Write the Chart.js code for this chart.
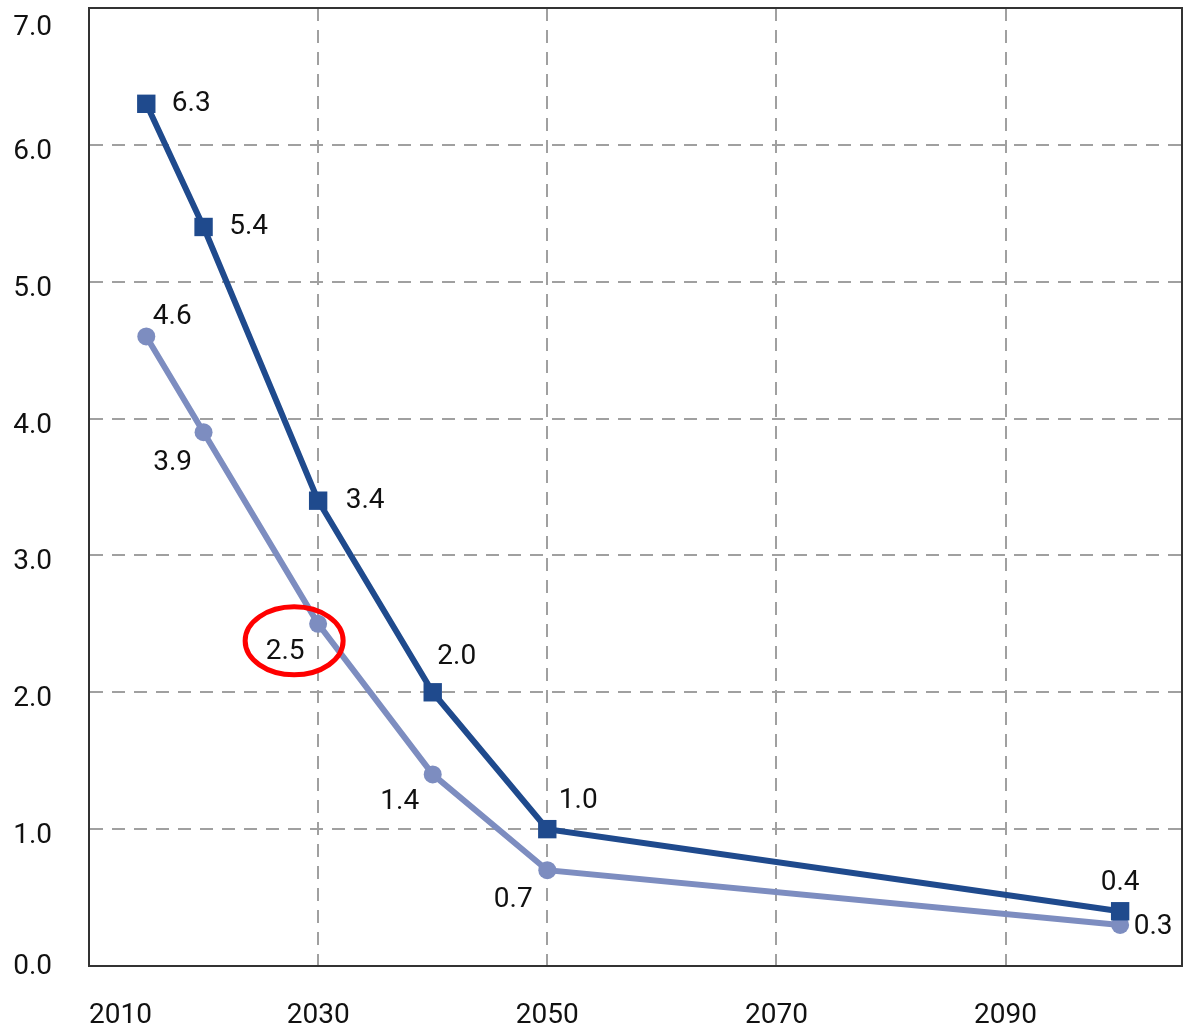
<!DOCTYPE html>
<html>
<head>
<meta charset="utf-8">
<script src="https://cdn.jsdelivr.net/npm/chart.js@4"></script>
<style>
  body { margin: 0; background: #fff; }
  #page { width: 1187px; height: 1032px; position: relative; overflow: hidden; }
  #wrap { width: 1195px; height: 1037px; position: absolute; left: 0; top: -5px; }
</style>
</head>
<body>
<div id="page"><div id="wrap"><canvas id="myChart"></canvas></div></div>
<script>
// values
var years = [2015, 2020, 2030, 2040, 2050, 2100];
var upperValues = [6.3, 5.4, 3.4, 2.0, 1.0, 0.4];
var lowerValues = [4.6, 3.9, 2.5, 1.4, 0.7, 0.3];
var xTickYears = [2010, 2030, 2050, 2070, 2090];
var yTickValues = [0, 1, 2, 3, 4, 5, 6, 7];

// where each value label sits relative to its point
var upperLabelShift = [[45, 0], [45, 0], [47, 0], [24, -35], [31, -28], [0, -28]];
var lowerLabelShift = [[26, -19], [-31, 31], [-33, 28], [-33, 28], [-34, 30], [33, 2]];

var darkBlue = '#1f4a8d';
var lightBlue = '#7d8dc0';
var fontFamily = 'Roboto, "Noto Sans", sans-serif';

function toPoints(vals) {
    return vals.map(function (v, i) { return { x: years[i], y: v }; });
}

function noScalePadding(scale) {
    scale.paddingLeft = 0;
    scale.paddingRight = 0;
    scale.paddingTop = 0;
    scale.paddingBottom = 0;
}

// box, axis labels, value labels and the red ring around 2.5
var extras = {
    id: 'extras',
    afterDatasetsDraw: function (chart) {
        var ctx = chart.ctx;
        var area = chart.chartArea;
        ctx.save();
        ctx.strokeStyle = '#333';
        ctx.lineWidth = 2;
        ctx.strokeRect(area.left, area.top, area.right - area.left, area.bottom - area.top);

        ctx.fillStyle = '#111';
        ctx.font = '28px ' + fontFamily;
        ctx.textBaseline = 'middle';

        // y axis labels, the top one kept below the box edge
        var ys = chart.scales.y;
        ctx.textAlign = 'right';
        yTickValues.forEach(function (v) {
            var py = ys.getPixelForValue(v) + (v === 0 ? 1 : 7);
            ctx.fillText(v.toFixed(1), area.left - 37, Math.max(py, area.top + 20));
        });

        // x axis labels, first one pushed right of the axis
        var xs = chart.scales.x;
        xTickYears.forEach(function (yr, i) {
            var px = xs.getPixelForValue(yr);
            ctx.textAlign = i === 0 ? 'left' : 'center';
            ctx.fillText(String(yr), px, area.bottom + 50);
        });

        ctx.textAlign = 'center';
        var shifts = [upperLabelShift, lowerLabelShift];
        var values = [upperValues, lowerValues];
        chart.data.datasets.forEach(function (ds, d) {
            chart.getDatasetMeta(d).data.forEach(function (pt, i) {
                ctx.fillText(values[d][i].toFixed(1), pt.x + shifts[d][i][0], pt.y + shifts[d][i][1]);
            });
        });

        // red ring around the 2.5 label
        var p = chart.getDatasetMeta(1).data[2];
        ctx.beginPath();
        ctx.ellipse(p.x - 24, p.y + 17, 49, 34, 0, 0, Math.PI * 2);
        ctx.strokeStyle = '#ff0000';
        ctx.lineWidth = 5;
        ctx.stroke();
        ctx.restore();
    }
};

var ctx = document.getElementById('myChart').getContext('2d');
var myChart = new Chart(ctx, {
    type: 'line',
    data: {
        datasets: [{
            data: toPoints(upperValues),
            borderColor: darkBlue,
            backgroundColor: darkBlue,
            borderWidth: 6,
            pointStyle: 'rect',
            pointRadius: 13,
            pointBorderWidth: 0,
            tension: 0
        }, {
            data: toPoints(lowerValues),
            borderColor: lightBlue,
            backgroundColor: lightBlue,
            borderWidth: 6,
            pointStyle: 'circle',
            pointRadius: 9,
            pointBorderWidth: 0,
            tension: 0
        }]
    },
    options: {
        responsive: true,
        maintainAspectRatio: false,
        animation: false,
        layout: {
            padding: { left: 17, right: 0, top: 0, bottom: 66 }
        },
        plugins: {
            legend: { display: false },
            tooltip: { enabled: false }
        },
        scales: {
            x: {
                type: 'linear',
                min: 2010,
                max: 2105.4,
                afterBuildTicks: function (scale) {
                    scale.ticks = xTickYears.map(function (v) { return { value: v }; });
                },
                afterFit: function (scale) {
                    scale.height = 0;
                    noScalePadding(scale);
                },
                ticks: { display: false },
                grid: { color: '#a0a0a0', lineWidth: 2, drawTicks: false },
                border: { display: true, color: '#333', width: 2, dash: [13, 9] }
            },
            y: {
                min: 0,
                max: 7,
                afterBuildTicks: function (scale) {
                    scale.ticks = yTickValues.map(function (v) { return { value: v }; });
                },
                afterFit: function (scale) {
                    scale.width = 72;
                    noScalePadding(scale);
                },
                ticks: { display: false },
                grid: { color: '#a0a0a0', lineWidth: 2, drawTicks: false },
                border: { display: true, color: '#333', width: 2, dash: [13, 9] }
            }
        }
    },
    plugins: [extras]
});
</script>
</body>
</html>
